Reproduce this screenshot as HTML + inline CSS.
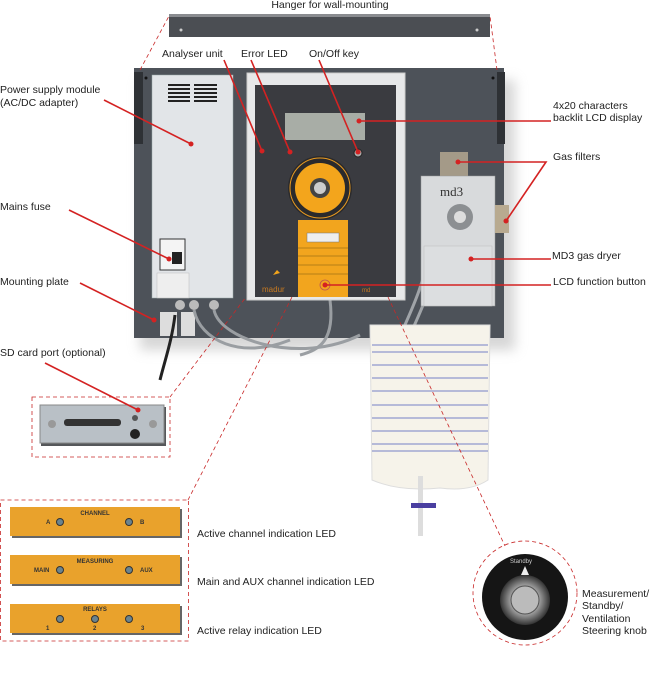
<!DOCTYPE html>
<html><head><meta charset="utf-8"><style>
html,body{margin:0;padding:0;background:#fff;}
svg{display:block;font-family:"Liberation Sans",Arial,sans-serif;}
</style></head><body>
<svg width="650" height="681" viewBox="0 0 650 681" xmlns="http://www.w3.org/2000/svg">
<defs>
<radialGradient id="kn" cx="50%" cy="50%" r="50%"><stop offset="0" stop-color="#eee"/><stop offset="0.6" stop-color="#999"/><stop offset="1" stop-color="#333"/></radialGradient>
<filter id="sh"><feGaussianBlur stdDeviation="6"/></filter>
</defs>
<!-- shadow -->
<rect x="140" y="80" width="375" height="270" fill="#bbb" filter="url(#sh)" opacity="0.6"/>
<!-- hanger -->
<rect x="169" y="14" width="321" height="23" fill="#4b4e53"/>
<rect x="169" y="14" width="321" height="3" fill="#8a8c90"/>
<circle cx="181" cy="30" r="1.5" fill="#ccc"/><circle cx="477" cy="30" r="1.5" fill="#ccc"/>
<!-- plate -->
<rect x="134" y="68" width="370" height="270" fill="#4d5259"/>
<rect x="134" y="72" width="9" height="72" fill="#2e3135"/>
<rect x="497" y="72" width="8" height="72" fill="#2e3135"/>
<circle cx="146" cy="78" r="1.5" fill="#111"/><circle cx="493" cy="78" r="1.5" fill="#111"/>
<!-- PSU -->
<rect x="152" y="75" width="81" height="223" fill="#e2e5e8" stroke="#9aa" stroke-width="0.5"/>
<g fill="#222">
<rect x="168" y="84" width="22" height="2"/><rect x="168" y="88" width="22" height="2"/><rect x="168" y="92" width="22" height="2"/><rect x="168" y="96" width="22" height="2"/><rect x="168" y="100" width="22" height="2"/>
<rect x="194" y="84" width="23" height="2"/><rect x="194" y="88" width="23" height="2"/><rect x="194" y="92" width="23" height="2"/><rect x="194" y="96" width="23" height="2"/><rect x="194" y="100" width="23" height="2"/>
</g>
<rect x="160" y="239" width="25" height="31" fill="#f4f4f4" stroke="#333" stroke-width="1"/>
<rect x="172" y="252" width="10" height="12" fill="#222"/>
<rect x="157" y="273" width="32" height="25" fill="#eee" stroke="#bbb" stroke-width="0.5"/>
<!-- glands -->
<circle cx="180" cy="305" r="5" fill="#bbb"/><circle cx="194" cy="305" r="5" fill="#bbb"/><circle cx="214" cy="305" r="5" fill="#bbb"/>
<rect x="160" y="312" width="17" height="24" fill="#ddd"/><rect x="181" y="312" width="14" height="24" fill="#ddd"/>
<!-- cables -->
<path d="M175 315 C172 340 165 360 160 380" stroke="#222" stroke-width="3" fill="none"/>
<path d="M194 310 C200 340 240 360 290 340" stroke="#9a9ea2" stroke-width="3" fill="none"/>
<path d="M214 310 C220 340 300 365 360 335" stroke="#9a9ea2" stroke-width="3" fill="none"/>
<path d="M330 300 C335 340 320 350 300 355" stroke="#9a9ea2" stroke-width="3" fill="none"/>
<path d="M440 250 C430 300 410 330 400 360" stroke="#a0a4a8" stroke-width="3" fill="none"/>
<path d="M430 250 C420 300 405 320 395 350" stroke="#a0a4a8" stroke-width="3" fill="none"/>
<!-- analyser -->
<rect x="247" y="73" width="158" height="227" fill="#e7e8e9" stroke="#ccc"/>
<rect x="255" y="85" width="141" height="212" fill="#3a3b40"/>
<rect x="285" y="113" width="80" height="27" fill="#a8ada6"/>
<circle cx="290" cy="152" r="2" fill="#a33"/>
<circle cx="358" cy="153" r="4" fill="#aaa" stroke="#222"/>
<circle cx="320" cy="188" r="32" fill="#2a2a2c"/>
<circle cx="320" cy="188" r="30" fill="none" stroke="#e89a20" stroke-width="1"/>
<circle cx="320" cy="188" r="25" fill="#f3a51c"/>
<circle cx="320" cy="188" r="10" fill="#444"/><circle cx="320" cy="188" r="6" fill="#ccc"/>
<rect x="298" y="220" width="50" height="77" fill="#f2a51e"/>
<rect x="307" y="233" width="32" height="9" fill="#eee" stroke="#777" stroke-width="0.5"/>
<line x1="298" y1="248" x2="348" y2="248" stroke="#7a5a10" stroke-width="0.6"/>
<line x1="298" y1="256" x2="348" y2="256" stroke="#7a5a10" stroke-width="0.6"/>
<line x1="298" y1="265" x2="348" y2="265" stroke="#7a5a10" stroke-width="0.6"/>
<line x1="298" y1="274" x2="348" y2="274" stroke="#7a5a10" stroke-width="0.6"/>
<circle cx="325" cy="285" r="5" fill="none" stroke="#b55" stroke-width="0.8"/>
<text x="262" y="292" font-size="8" fill="#c87a20">madur</text>
<text x="362" y="292" font-size="6" fill="#c87a20">md</text>
<path d="M273 275 l4 -5 l3 3 z" fill="#f3a51c"/>
<!-- md3 -->
<rect x="440" y="152" width="28" height="26" fill="#a49a88"/>
<rect x="421" y="176" width="74" height="130" fill="#d8dadc" stroke="#999" stroke-width="0.5"/>
<rect x="424" y="246" width="68" height="60" fill="#dcdee0" stroke="#bbb" stroke-width="0.5"/>
<text x="440" y="196" font-size="13" font-family="Liberation Serif,serif" fill="#333">md3</text>
<circle cx="460" cy="217" r="13" fill="#8c8f92"/><circle cx="460" cy="217" r="6" fill="#ddd"/>
<rect x="495" y="205" width="14" height="28" fill="#b8aa90"/>
<!-- bag -->
<path d="M370 325 L490 325 L488 480 Q470 492 440 488 Q400 492 372 480 Z" fill="#f6f3ea" stroke="#ddd"/>
<g stroke="#4a5ab8" stroke-width="0.8">
<line x1="372" y1="345" x2="488" y2="345"/><line x1="372" y1="352" x2="488" y2="352"/><line x1="372" y1="365" x2="488" y2="365"/><line x1="372" y1="378" x2="488" y2="378"/><line x1="372" y1="391" x2="488" y2="391"/><line x1="372" y1="405" x2="488" y2="405"/><line x1="372" y1="418" x2="488" y2="418"/><line x1="372" y1="431" x2="488" y2="431"/><line x1="372" y1="444" x2="488" y2="444"/><line x1="372" y1="451" x2="488" y2="451"/>
</g>
<rect x="418" y="476" width="5" height="60" fill="#ddd"/>
<rect x="411" y="503" width="25" height="5" fill="#4a3fa0"/>
<!-- dashed connectors -->
<g stroke="#c82828" stroke-width="0.8" stroke-dasharray="4,3" fill="none">
<line x1="140" y1="70" x2="169" y2="16"/>
<line x1="497" y1="70" x2="490" y2="16"/>
<line x1="170" y1="397" x2="246" y2="297"/>
<line x1="188" y1="500" x2="292" y2="297"/>
<line x1="388" y1="297" x2="505" y2="546"/>
<rect x="32" y="397" width="138" height="60"/>
<rect x="0.5" y="500" width="188" height="141"/>
<circle cx="525" cy="593" r="52"/>
</g>
<!-- SD inset -->
<rect x="41" y="407" width="125" height="39" fill="#55575a"/>
<rect x="40" y="405" width="124" height="38" fill="#b9c0c6" stroke="#888"/>
<rect x="64" y="419" width="57" height="7" rx="3" fill="#333"/>
<circle cx="52" cy="424" r="4" fill="#999"/><circle cx="153" cy="424" r="4" fill="#999"/>
<circle cx="135" cy="418" r="3" fill="#555"/><circle cx="135" cy="434" r="5" fill="#222"/>
<!-- LED panels -->
<g font-size="6" font-weight="bold" fill="#333">
<rect x="12" y="509" width="170" height="29" fill="#666"/>
<rect x="10" y="507" width="170" height="29" fill="#e9a22c"/>
<text x="95" y="515" text-anchor="middle">CHANNEL</text>
<text x="46" y="524">A</text><text x="140" y="524">B</text>
<circle cx="60" cy="522" r="3.5" fill="#6a8490" stroke="#333"/><circle cx="129" cy="522" r="3.5" fill="#6a8490" stroke="#333"/>
<rect x="12" y="557" width="170" height="29" fill="#666"/>
<rect x="10" y="555" width="170" height="29" fill="#e9a22c"/>
<text x="95" y="563" text-anchor="middle">MEASURING</text>
<text x="34" y="572">MAIN</text><text x="140" y="572">AUX</text>
<circle cx="60" cy="570" r="3.5" fill="#6a8490" stroke="#333"/><circle cx="129" cy="570" r="3.5" fill="#6a8490" stroke="#333"/>
<rect x="12" y="606" width="170" height="29" fill="#666"/>
<rect x="10" y="604" width="170" height="29" fill="#e9a22c"/>
<text x="95" y="611" text-anchor="middle">RELAYS</text>
<circle cx="60" cy="619" r="3.5" fill="#6a8490" stroke="#333"/><circle cx="95" cy="619" r="3.5" fill="#6a8490" stroke="#333"/><circle cx="129" cy="619" r="3.5" fill="#6a8490" stroke="#333"/>
<text x="46" y="630">1</text><text x="93" y="630">2</text><text x="141" y="630">3</text>
</g>
<!-- knob -->
<circle cx="525" cy="597" r="43" fill="#151515"/>
<circle cx="525" cy="600" r="25" fill="url(#kn)"/>
<circle cx="525" cy="600" r="14" fill="#bbb" stroke="#555"/>
<path d="M521 575 L525 566 L529 575 Z" fill="#eee"/>
<text x="510" y="563" font-size="6" fill="#ccc">Standby</text>
<!-- red lines -->
<g stroke="#d42222" stroke-width="1.6" fill="none">
<line x1="104" y1="100" x2="191" y2="144"/>
<line x1="224" y1="60" x2="262" y2="151"/>
<line x1="251" y1="60" x2="290" y2="152"/>
<line x1="319" y1="60" x2="358" y2="152"/>
<line x1="359" y1="121" x2="551" y2="121"/>
<polyline points="458,162 546,162 506,221"/>
<line x1="471" y1="259" x2="551" y2="259"/>
<line x1="325" y1="285" x2="551" y2="285"/>
<line x1="69" y1="210" x2="169" y2="259"/>
<line x1="80" y1="283" x2="154" y2="320"/>
<line x1="45" y1="363" x2="138" y2="410"/>
</g>
<g fill="#d42222">
<circle cx="191" cy="144" r="2.5"/><circle cx="262" cy="151" r="2.5"/><circle cx="290" cy="152" r="2.5"/><circle cx="358" cy="152" r="2.5"/><circle cx="359" cy="121" r="2.5"/><circle cx="458" cy="162" r="2.5"/><circle cx="506" cy="221" r="2.5"/><circle cx="471" cy="259" r="2.5"/><circle cx="325" cy="285" r="2.5"/><circle cx="169" cy="259" r="2.5"/><circle cx="154" cy="320" r="2.5"/><circle cx="138" cy="410" r="2.5"/>
</g>
<!-- labels -->
<g font-size="10.5" fill="#222">
<text x="330" y="8" text-anchor="middle">Hanger for wall-mounting</text>
<text x="0" y="93">Power supply module</text>
<text x="0" y="106">(AC/DC adapter)</text>
<text x="0" y="210">Mains fuse</text>
<text x="0" y="285">Mounting plate</text>
<text x="0" y="356">SD card port (optional)</text>
<text x="162" y="57">Analyser unit</text>
<text x="241" y="57">Error LED</text>
<text x="309" y="57">On/Off key</text>
<text x="553" y="109">4x20 characters</text>
<text x="553" y="121">backlit LCD display</text>
<text x="553" y="160">Gas filters</text>
<text x="552" y="259">MD3 gas dryer</text>
<text x="553" y="285">LCD function button</text>
<text x="197" y="537">Active channel indication LED</text>
<text x="197" y="585">Main and AUX channel indication LED</text>
<text x="197" y="634">Active relay indication LED</text>
<text x="582" y="597">Measurement/</text>
<text x="582" y="609">Standby/</text>
<text x="582" y="622">Ventilation</text>
<text x="582" y="634">Steering knob</text>
</g>
</svg>
</body></html>
